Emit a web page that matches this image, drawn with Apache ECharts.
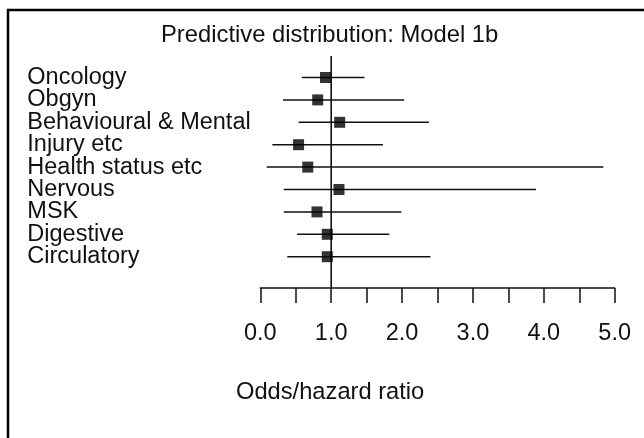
<!DOCTYPE html>
<html>
<head>
<meta charset="utf-8">
<script src="https://cdn.jsdelivr.net/npm/echarts@6/dist/echarts.min.js"></script>
<style>
  html, body { margin: 0; padding: 0; background: #fff; }
  #chart { width: 644px; height: 438px; }
</style>
</head>
<body>
<div id="chart"></div>
<script>
// ---- data ----
const categories = ['Oncology', 'Obgyn', 'Behavioural & Mental', 'Injury etc', 'Health status etc', 'Nervous', 'MSK', 'Digestive', 'Circulatory'];
const pointEstimate = [0.92, 0.81, 1.12, 0.54, 0.67, 1.11, 0.80, 0.945, 0.945];
const lowerBound = [0.585, 0.32, 0.54, 0.17, 0.09, 0.33, 0.33, 0.52, 0.38];
const upperBound = [1.47, 2.03, 2.38, 1.73, 4.84, 3.89, 1.99, 1.82, 2.40];
const xTickValues = [0, 1, 2, 3, 4, 5];
const referenceValue = 1;
const titleText = 'Predictive distribution: Model 1b';
const xAxisTitle = 'Odds/hazard ratio';

// ---- chart ----
const FONT = "'Liberation Sans', Arial, Helvetica, sans-serif";
const chart = echarts.init(document.getElementById('chart'), null, { renderer: 'canvas' });

const intervalData = categories.map((c, i) => [lowerBound[i], upperBound[i], c]);
const pointData = categories.map((c, i) => [pointEstimate[i], c]);

const option = {
  backgroundColor: '#ffffff',
  animation: false,
  title: [
    {
      text: titleText, left: 161, top: 23, padding: 0,
      textStyle: { fontFamily: FONT, fontSize: 23.8, lineHeight: 24, fontWeight: 'normal', color: '#111' }
    },
    {
      text: xAxisTitle, left: 236, top: 380, padding: 0,
      textStyle: { fontFamily: FONT, fontSize: 23.7, lineHeight: 24, fontWeight: 'normal', color: '#111' }
    }
  ],
  graphic: [
    {
      type: 'rect', silent: true, z: 100,
      shape: { x: 8, y: 10, width: 700, height: 500 },
      style: { fill: null, stroke: '#000', lineWidth: 2.5 }
    }
  ],
  grid: [
    { left: 260.3, right: 29.3, top: 66.3, bottom: 170.1, containLabel: false },
    { left: 260.3, right: 29.3, top: 56, bottom: 150, containLabel: false }
  ],
  xAxis: [
    {
      type: 'value', gridIndex: 0, min: 0, max: 5, interval: 0.5, offset: 20,
      axisLine: { show: true, lineStyle: { color: '#111', width: 1.5 } },
      axisTick: { show: true, inside: false, length: 15, lineStyle: { color: '#111', width: 1.5 } },
      splitLine: { show: false },
      axisLabel: {
        show: true, margin: 34, fontFamily: FONT, fontSize: 23.5, lineHeight: 23, color: '#111',
        formatter: function (v) {
          const hit = xTickValues.find(t => Math.abs(t - v) < 1e-9);
          return hit === undefined ? '' : hit.toFixed(1);
        }
      }
    },
    { type: 'value', gridIndex: 1, min: 0, max: 5, show: false }
  ],
  yAxis: [
    {
      type: 'category', gridIndex: 0, data: categories, inverse: true,
      axisLine: { show: false }, axisTick: { show: false }, splitLine: { show: false },
      axisLabel: {
        show: true, interval: 0, align: 'left', margin: 233, fontFamily: FONT, fontSize: 23.5, lineHeight: 22,
        color: '#111', hideOverlap: false
      }
    },
    { type: 'value', gridIndex: 1, min: 0, max: 1, show: false }
  ],
  series: [
    {
      type: 'line', xAxisIndex: 1, yAxisIndex: 1,
      data: [[referenceValue, 0], [referenceValue, 1]],
      symbol: 'none', lineStyle: { color: '#111', width: 1.6 }, silent: true, z: 2
    },
    {
      type: 'custom', xAxisIndex: 0, yAxisIndex: 0,
      data: intervalData,
      encode: { x: [0, 1], y: 2 },
      renderItem: function (params, api) {
        const cat = api.value(2);
        const p1 = api.coord([api.value(0), cat]);
        const p2 = api.coord([api.value(1), cat]);
        return {
          type: 'line',
          shape: { x1: p1[0], y1: p1[1], x2: p2[0], y2: p2[1] },
          style: { stroke: '#111', lineWidth: 1.5 }
        };
      },
      z: 3
    },
    {
      type: 'scatter', xAxisIndex: 0, yAxisIndex: 0,
      data: pointData,
      symbol: 'rect', symbolSize: 11,
      itemStyle: { color: '#000' },
      z: 4
    }
  ]
};
chart.setOption(option);
</script>
</body>
</html>
